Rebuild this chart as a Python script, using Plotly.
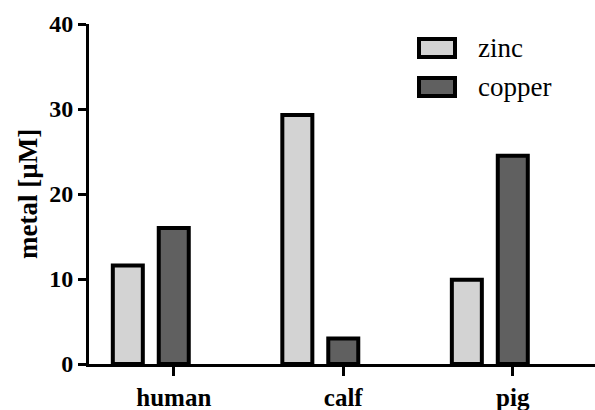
import plotly.graph_objects as go

categories = ["human", "calf", "pig"]
series_names = ["zinc", "copper"]
zinc = [11.6, 29.3, 9.9]
copper = [16.0, 3.0, 24.5]
y_ticks = [0, 10, 20, 30, 40]
y_title = "metal [µM]"

colors = ["#d3d3d3", "#606060"]
FONT = "Liberation Serif, Times New Roman, Times, serif"
W, H = 595, 410
L, R, T, B = 89, 0, 24, 45.5
pw, ph = W - L - R, H - T - B

bar_w = 0.177
offsets = [-0.271 - bar_w / 2, -bar_w / 2]

fig = go.Figure()
for name, vals, col, off in zip(series_names, [zinc, copper], colors, offsets):
    fig.add_trace(go.Bar(
        x=categories, y=vals, name=name, width=bar_w, offset=off,
        marker=dict(color=col, line=dict(color="black", width=4)),
        showlegend=False, hoverinfo="skip",
    ))

# legend drawn as boxes + text
legend_px = [(419, 39, 455, 57), (419, 78, 455, 96)]
for (x0, y0, x1, y1), name, col in zip(legend_px, series_names, colors):
    fig.add_shape(type="rect", xref="paper", yref="paper",
                  x0=(x0 - L) / pw, x1=(x1 - L) / pw,
                  y0=(H - B - y1) / ph, y1=(H - B - y0) / ph,
                  fillcolor=col, line=dict(color="black", width=4))
    fig.add_annotation(xref="paper", yref="paper", x=(476 - L) / pw,
                       y=(H - B - (y0 + y1) / 2) / ph, xanchor="left", yanchor="middle",
                       text=name, showarrow=False,
                       font=dict(family=FONT, size=27, color="black"))

# y-axis title
fig.add_annotation(xref="paper", yref="paper", x=(28 - L) / pw, y=0.5,
                   xanchor="center", yanchor="middle", textangle=-90,
                   text=y_title, showarrow=False,
                   font=dict(family=FONT, size=27, color="black", weight="bold"))

fig.update_layout(
    width=W, height=H,
    margin=dict(l=L, r=R, t=T, b=B),
    paper_bgcolor="white", plot_bgcolor="white",
    barmode="group",
    font=dict(family=FONT, color="black"),
    xaxis=dict(
        type="category", range=[-0.5, 2.485],
        showline=True, linecolor="black", linewidth=3,
        ticks="outside", ticklen=9, tickwidth=3, tickcolor="black",
        tickfont=dict(family=FONT, size=25, color="black", weight="bold"),
        showgrid=False, zeroline=False, fixedrange=True,
    ),
    yaxis=dict(
        range=[0, 40], tickvals=y_ticks,
        showline=True, linecolor="black", linewidth=3,
        ticks="outside", ticklen=8, tickwidth=3, tickcolor="black",
        tickfont=dict(family=FONT, size=24, color="black", weight="bold"),
        showgrid=False, zeroline=False, fixedrange=True,
    ),
)

fig.write_html("out.html", config={"displayModeBar": False, "staticPlot": True},
               post_script="document.body.style.margin='0';document.body.style.padding='0';")
